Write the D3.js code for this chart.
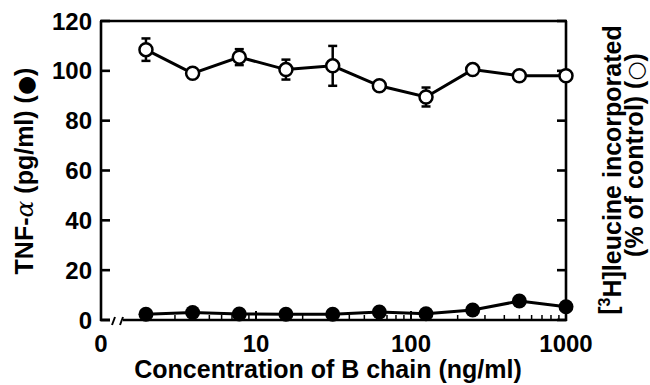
<!DOCTYPE html>
<html>
<head>
<meta charset="utf-8">
<title>B chain</title>
<script src="https://d3js.org/d3.v7.min.js"></script>
<style>
  body { margin: 0; background: #fff; }
  text { font-family: "Liberation Sans", Arial, sans-serif; font-weight: bold; fill: #000; }
</style>
</head>
<body>
<div id="chart"></div>
<script>
// concentrations (ng/ml), two-fold dilutions
var conc = [1.95, 3.9, 7.8, 15.6, 31.25, 62.5, 125, 250, 500, 1000];
// [3H]leucine incorporated, % of control (open circles)
var leucine = [108.5, 99, 105.5, 100.5, 102, 94, 89.5, 100.5, 98, 98];
var leucineErr = [4.5, 1, 3.2, 4, 8, 1, 3.8, 1, 1, 1];
// TNF-alpha pg/ml (filled circles)
var tnf = [2.3, 3, 2.4, 2.3, 2.3, 3.2, 2.5, 4, 7.6, 5.3];

var xTicks = [10, 100, 1000];
var yTicks = [0, 20, 40, 60, 80, 100, 120];

var w = 650, h = 385;
var pLeft = 101, pRight = 566, pTop = 21, pBottom = 320;

var svg = d3.select("#chart").append("svg")
    .attr("width", w)
    .attr("height", h);

var x = d3.scaleLog().domain([1, 1000]).range([pLeft, pRight]);
var y = d3.scaleLinear().domain([0, 120]).range([pBottom, pTop]);

var axisW = 2.6;

// frame
svg.append("line").attr("x1", pLeft).attr("x2", pLeft).attr("y1", pTop).attr("y2", pBottom + 1)
    .attr("stroke", "#000").attr("stroke-width", axisW);
svg.append("line").attr("x1", pRight).attr("x2", pRight).attr("y1", pTop).attr("y2", pBottom + 1)
    .attr("stroke", "#000").attr("stroke-width", axisW);
svg.append("line").attr("x1", pLeft - 1).attr("x2", pRight + 1).attr("y1", pTop).attr("y2", pTop)
    .attr("stroke", "#000").attr("stroke-width", axisW);
// bottom axis with break
svg.append("line").attr("x1", pLeft - 1).attr("x2", 110).attr("y1", pBottom).attr("y2", pBottom)
    .attr("stroke", "#000").attr("stroke-width", axisW);
svg.append("line").attr("x1", 123).attr("x2", pRight + 1).attr("y1", pBottom).attr("y2", pBottom)
    .attr("stroke", "#000").attr("stroke-width", axisW);
[112, 120].forEach(function(bx) {
  svg.append("line").attr("x1", bx).attr("x2", bx + 3).attr("y1", pBottom + 5).attr("y2", pBottom - 3)
      .attr("stroke", "#000").attr("stroke-width", 2);
});

// y ticks (both sides, pointing in)
var yt = svg.append("g");
yt.selectAll("line.l").data(yTicks).enter().append("line")
    .attr("x1", pLeft).attr("x2", pLeft + 9)
    .attr("y1", function(d){ return y(d); }).attr("y2", function(d){ return y(d); })
    .attr("stroke", "#000").attr("stroke-width", axisW);
yt.selectAll("line.r").data(yTicks).enter().append("line")
    .attr("x1", pRight - 9).attr("x2", pRight)
    .attr("y1", function(d){ return y(d); }).attr("y2", function(d){ return y(d); })
    .attr("stroke", "#000").attr("stroke-width", axisW);
yt.selectAll("text").data(yTicks).enter().append("text")
    .attr("x", 92).attr("y", function(d){ return y(d); })
    .attr("dy", "0.36em")
    .attr("text-anchor", "end")
    .style("font-size", "24px")
    .text(function(d){ return d; });

// x ticks
var minor = [];
[1, 10, 100].forEach(function(p) {
  for (var k = 2; k <= 9; k++) minor.push(k * p);
});
svg.selectAll("line.minor").data(minor).enter().append("line")
    .attr("x1", function(d){ return x(d); }).attr("x2", function(d){ return x(d); })
    .attr("y1", pBottom).attr("y2", pBottom - 5)
    .attr("stroke", "#000").attr("stroke-width", 1.5);
svg.selectAll("line.major").data(xTicks).enter().append("line")
    .attr("x1", function(d){ return x(d); }).attr("x2", function(d){ return x(d); })
    .attr("y1", pBottom).attr("y2", pBottom - 9)
    .attr("stroke", "#000").attr("stroke-width", 2);
svg.selectAll("text.xt").data(xTicks).enter().append("text")
    .attr("x", function(d){ return x(d); }).attr("y", 352)
    .attr("text-anchor", "middle")
    .style("font-size", "24px")
    .text(function(d){ return d; });
svg.append("text").attr("x", pLeft).attr("y", 352)
    .attr("text-anchor", "middle").style("font-size", "24px").text("0");

// axis titles
svg.append("text")
    .attr("x", 328).attr("y", 378)
    .attr("text-anchor", "middle")
    .style("font-size", "25px")
    .text("Concentration of B chain (ng/ml)");

var yl = svg.append("text")
    .attr("transform", "translate(33,171) rotate(-90)")
    .attr("text-anchor", "middle")
    .style("font-size", "25px");
yl.append("tspan").text("TNF-");
yl.append("tspan").style("font-family", "'DejaVu Serif', serif").style("font-weight", "normal").style("font-style", "italic").text("α");
yl.append("tspan").text(" (pg/ml) (");
yl.append("tspan").style("font-family", "'DejaVu Sans', sans-serif").style("font-size", "22px").text("●");
yl.append("tspan").text(")");

var yr1 = svg.append("text")
    .attr("transform", "translate(617,170) rotate(-90)")
    .attr("text-anchor", "middle")
    .style("font-size", "25px");
yr1.append("tspan").text("[");
yr1.append("tspan").attr("dy", "-0.45em").style("font-size", "16px").text("3");
yr1.append("tspan").attr("dy", "0.45em").text("H]leucine incorporated");

var yr2 = svg.append("text")
    .attr("transform", "translate(643,155) rotate(-90)")
    .attr("text-anchor", "middle")
    .style("font-size", "25px");
yr2.append("tspan").text("(% of control) (");
yr2.append("tspan").style("font-family", "'DejaVu Sans', sans-serif").style("font-size", "22px").text("○");
yr2.append("tspan").text(")");

// series
var line = d3.line()
    .x(function(d){ return x(d[0]); })
    .y(function(d){ return y(d[1]); });

var leuData = conc.map(function(c, i){ return [c, leucine[i], leucineErr[i]]; });
var tnfData = conc.map(function(c, i){ return [c, tnf[i]]; });

svg.append("path").datum(tnfData).attr("d", line)
    .attr("fill", "none").attr("stroke", "#000").attr("stroke-width", 3);
svg.append("path").datum(leuData).attr("d", line)
    .attr("fill", "none").attr("stroke", "#000").attr("stroke-width", 3);

// error bars
var eb = svg.append("g").attr("stroke", "#000").attr("stroke-width", 2.5);
leuData.forEach(function(d) {
  var cx = x(d[0]);
  eb.append("line").attr("x1", cx).attr("x2", cx)
      .attr("y1", y(d[1] - d[2])).attr("y2", y(d[1] + d[2]));
  [d[1] - d[2], d[1] + d[2]].forEach(function(v) {
    eb.append("line").attr("x1", cx - 4.5).attr("x2", cx + 4.5)
        .attr("y1", y(v)).attr("y2", y(v));
  });
});

svg.selectAll("circle.tnf").data(tnfData).enter().append("circle")
    .attr("cx", function(d){ return x(d[0]); })
    .attr("cy", function(d){ return y(d[1]); })
    .attr("r", 7.5)
    .attr("fill", "#000");

svg.selectAll("circle.leu").data(leuData).enter().append("circle")
    .attr("cx", function(d){ return x(d[0]); })
    .attr("cy", function(d){ return y(d[1]); })
    .attr("r", 6.5)
    .attr("fill", "#fff")
    .attr("stroke", "#000")
    .attr("stroke-width", 2.5);
</script>
</body>
</html>
